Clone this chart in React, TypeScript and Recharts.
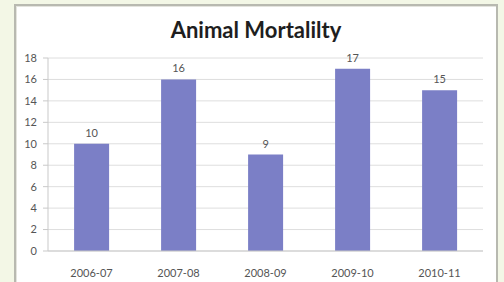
import React from 'react';
import { BarChart, Bar, XAxis, YAxis, CartesianGrid, LabelList } from 'recharts';

const seasons = ['2006-07', '2007-08', '2008-09', '2009-10', '2010-11'];
const deaths = [10, 16, 9, 17, 15];
const yTicks = [0, 2, 4, 6, 8, 10, 12, 14, 16, 18];

const data = seasons.map((season, i) => ({ season, deaths: deaths[i] }));

const FONT = 'Lato, "Open Sans", sans-serif';

export default function App() {
  return (
    <div
      style={{
        position: 'fixed',
        left: 0,
        top: 0,
        width: 504,
        height: 282,
        overflow: 'hidden',
        background: '#f3f7e6',
        fontFamily: FONT
      }}
    >
      <div
        style={{
          position: 'absolute',
          left: 14,
          top: 4,
          width: 480,
          height: 300,
          background: '#ffffff',
          border: '2px solid #b8b9b0',
          boxShadow: 'inset 1px 1px 0 #e4e4de'
        }}
      />
      <div
        style={{
          position: 'absolute',
          left: 0,
          top: 17,
          width: 512,
          textAlign: 'center',
          fontSize: 22,
          lineHeight: '26px',
          fontWeight: 700,
          color: '#1e1e1e'
        }}
      >
        Animal Mortalilty
      </div>
      <div style={{ position: 'absolute', left: 0, top: 0 }}>
        <BarChart
          width={504}
          height={282}
          data={data}
          margin={{ top: 58, right: 21, left: 0, bottom: 0 }}
          barCategoryGap="30%"
        >
          <CartesianGrid vertical={false} stroke="#dedede" />
          <XAxis
            dataKey="season"
            height={31}
            tickLine={false}
            tickMargin={12}
            axisLine={{ stroke: '#c9c9c9' }}
            tick={{ fontSize: 11, fill: '#555555', fontFamily: FONT }}
          />
          <YAxis
            width={48}
            domain={[0, 18]}
            ticks={yTicks}
            interval={0}
            tickSize={5}
            tickMargin={6}
            tickLine={{ stroke: '#c9c9c9' }}
            axisLine={{ stroke: '#c9c9c9' }}
            tick={{ fontSize: 11, fill: '#555555', fontFamily: FONT }}
          />
          <Bar dataKey="deaths" fill="#7b7fc6" isAnimationActive={false}>
            <LabelList
              dataKey="deaths"
              position="top"
              offset={7}
              style={{ fontSize: 11, fill: '#555555', fontFamily: FONT }}
            />
          </Bar>
        </BarChart>
      </div>
    </div>
  );
}
